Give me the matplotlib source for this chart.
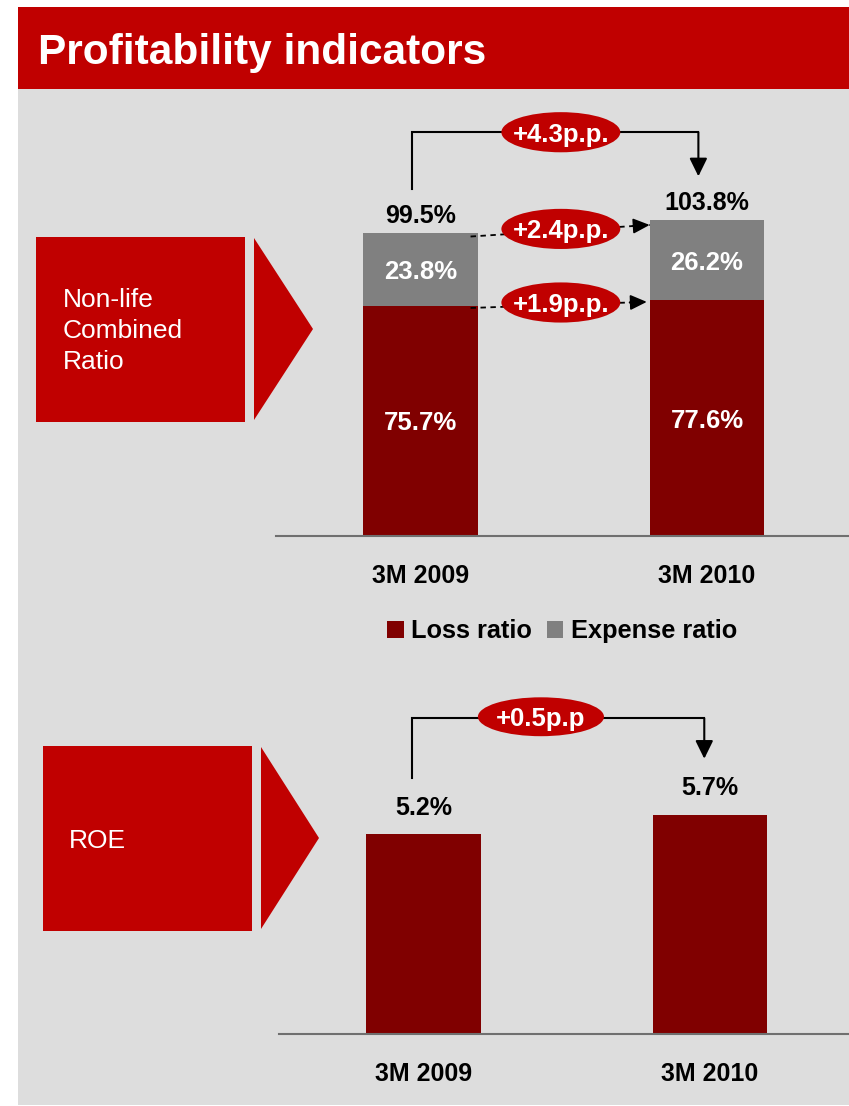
import matplotlib.pyplot as plt
from matplotlib.patches import Rectangle, Polygon, Ellipse

plt.rcParams['font.family'] = ['Liberation Sans', 'DejaVu Sans']

# data
periods = ['3M 2009', '3M 2010']
loss_ratio = [75.7, 77.6]
expense_ratio = [23.8, 26.2]
combined_ratio = [99.5, 103.8]
roe = [5.2, 5.7]
combined_change = '+4.3p.p.'
expense_change = '+2.4p.p.'
loss_change = '+1.9p.p.'
roe_change = '+0.5p.p'

RED = '#C00000'
DARK = '#800000'
GREY = '#808080'
BG = '#DDDDDD'

W, H = 849, 1106
fig = plt.figure(figsize=(W / 100, H / 100), dpi=100)

# background layer in pixel coordinates
bg = fig.add_axes([0, 0, 1, 1])
bg.set_xlim(0, W)
bg.set_ylim(H, 0)
bg.axis('off')
bg.add_patch(Rectangle((18, 89), W - 18, 1016, fc=BG, ec='none'))
bg.add_patch(Rectangle((18, 7), W - 18, 82, fc=RED, ec='none'))
bg.text(38, 64, 'Profitability indicators', color='white', fontsize=30.5,
        fontweight='bold', va='baseline', ha='left')

# left side boxes with arrow triangles
bg.add_patch(Rectangle((36, 237), 209, 185, fc=RED, ec='none'))
bg.add_patch(Polygon([(254, 238), (313, 329), (254, 420)], fc=RED, ec='none'))
bg.text(63, 331, 'Non-life\nCombined\nRatio', color='white', fontsize=19,
        va='center', ha='left', linespacing=1.35)
bg.add_patch(Rectangle((43, 746), 209, 185, fc=RED, ec='none'))
bg.add_patch(Polygon([(261, 747), (319, 838), (261, 929)], fc=RED, ec='none'))
bg.text(69, 838, 'ROE', color='white', fontsize=19, va='center_baseline', ha='left')


def px_axes(left, top, right, bottom):
    return fig.add_axes([left / W, 1 - bottom / H, (right - left) / W, (bottom - top) / H])


def style(ax):
    ax.set_facecolor('none')
    for s in ['top', 'left', 'right']:
        ax.spines[s].set_visible(False)
    ax.spines['bottom'].set_color('#6f6f6f')
    ax.spines['bottom'].set_linewidth(1.5)
    ax.set_yticks([])
    ax.set_xticks([0, 1])
    ax.set_xticklabels(periods, fontsize=18, fontweight='bold')
    ax.tick_params(axis='x', length=0, pad=20)


def bubble(ax, x, y, w, h, s):
    ax.add_patch(Ellipse((x, y), w, h, fc=RED, ec='none', zorder=5, clip_on=False))
    ax.text(x, y, s, color='white', fontsize=18.5, fontweight='bold',
            ha='center', va='center_baseline', zorder=6)


def bracket(ax, x0, x1, y_start, y_top, y_tip):
    ax.plot([x0, x0, x1], [y_start, y_top, y_top], color='black', lw=1.5,
            solid_joinstyle='miter', clip_on=False)
    ax.annotate('', xy=(x1, y_tip), xytext=(x1, y_top),
                arrowprops=dict(arrowstyle='-|>,head_length=0.55,head_width=0.27',
                                color='black', lw=1.5, mutation_scale=20,
                                shrinkA=0, shrinkB=0))


def dashed_arrow(ax, start, end):
    ax.plot([start[0], end[0]], [start[1], end[1]], color='black', lw=1.3,
            ls=(0, (3, 2.5)), clip_on=False)
    dx, dy = end[0] - start[0], end[1] - start[1]
    f = 0.06 / dx
    ax.annotate('', xy=end, xytext=(end[0] - dx * f, end[1] - dy * f),
                arrowprops=dict(arrowstyle='-|>,head_length=0.5,head_width=0.23',
                                color='black', lw=1.3, mutation_scale=20,
                                shrinkA=0, shrinkB=0))


x = [0, 1]
bw = 0.4

# combined ratio chart
ax1 = px_axes(276, 100, 849, 536)
style(ax1)
ax1.set_xlim(-0.504, 1.4956)
ax1.set_ylim(0, 143.4)
b_loss = ax1.bar(x, loss_ratio, bw, color=DARK, label='Loss ratio')
b_exp = ax1.bar(x, expense_ratio, bw, bottom=loss_ratio, color=GREY, label='Expense ratio')
for i in range(2):
    ax1.text(x[i], loss_ratio[i] / 2, f'{loss_ratio[i]:.1f}%', color='white',
             fontsize=18.5, fontweight='bold', ha='center', va='center_baseline')
    ax1.text(x[i], loss_ratio[i] + expense_ratio[i] / 2, f'{expense_ratio[i]:.1f}%',
             color='white', fontsize=18.5, fontweight='bold', ha='center', va='center_baseline')
    ax1.text(x[i], combined_ratio[i] + 3.3, f'{combined_ratio[i]:.1f}%', color='black',
             fontsize=18, fontweight='bold', ha='center', va='baseline')

top1 = max(combined_ratio) + 29
bracket(ax1, x[0] - 0.03, x[1] - 0.03, combined_ratio[0] + 14.5, top1, combined_ratio[1] + 14.5)
bubble(ax1, 0.49, top1, 0.415, 13.2, combined_change)

# dashed arrows between segments
s1, e1 = (x[0] + bw / 2 - 0.025, combined_ratio[0] - 1.0), (x[1] - bw / 2, combined_ratio[1] - 1.5)
dashed_arrow(ax1, s1, e1)
bubble(ax1, 0.49, (s1[1] + e1[1]) / 2 + 0.6, 0.415, 13.2, expense_change)
s2, e2 = (x[0] + bw / 2 - 0.025, loss_ratio[0] - 0.7), (x[1] - bw / 2 - 0.01, loss_ratio[1] - 0.6)
dashed_arrow(ax1, s2, e2)
bubble(ax1, 0.49, (s2[1] + e2[1]) / 2 + 0.8, 0.415, 13.2, loss_change)

fig.legend(handles=[b_loss, b_exp], labels=['Loss ratio', 'Expense ratio'],
           loc='center', bbox_to_anchor=(562 / W, 1 - 631 / H), ncol=2, frameon=False,
           prop=dict(weight='bold', size=18.3), handlelength=0.65, handleheight=0.65,
           handletextpad=0.28, columnspacing=0.6, borderaxespad=0, borderpad=0)

# ROE chart
ax2 = px_axes(279, 690, 849, 1034)
style(ax2)
ax2.set_xlim(-0.504, 1.485)
ax2.set_ylim(0, 8.935)
ax2.bar(x, roe, bw, color=DARK)
for i in range(2):
    ax2.text(x[i], roe[i] + 0.5, f'{roe[i]:.1f}%', color='black', fontsize=18,
             fontweight='bold', ha='center', va='baseline')
top2 = max(roe) + 2.5
bracket(ax2, x[0] - 0.04, x[1] - 0.02, roe[0] + 1.45, top2, roe[1] + 1.45)
bubble(ax2, 0.41, top2 + 0.04, 0.44, 1.01, roe_change)

fig.savefig('out.png', dpi=100)
